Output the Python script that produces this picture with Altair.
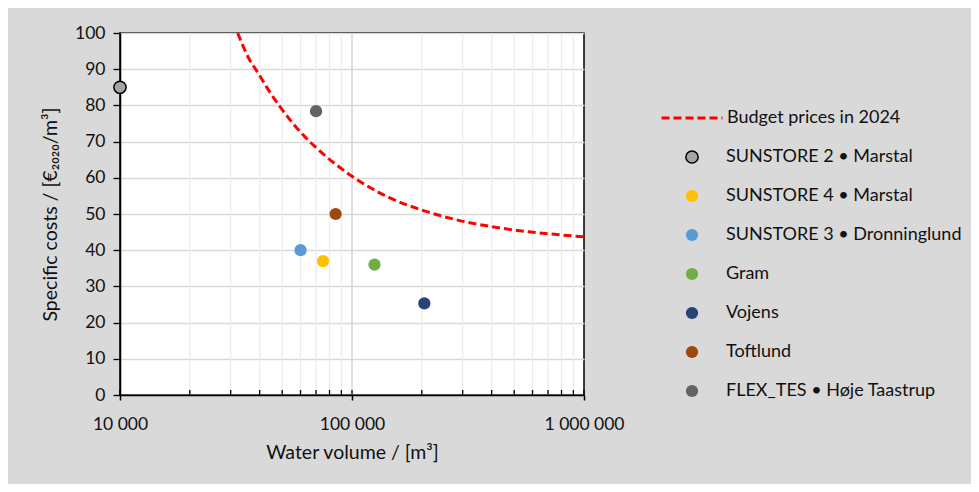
import altair as alt
import pandas as pd

# ---------------- data ----------------
names = [
    "SUNSTORE 2 • Marstal",
    "SUNSTORE 4 • Marstal",
    "SUNSTORE 3 • Dronninglund",
    "Gram",
    "Vojens",
    "Toftlund",
    "FLEX_TES • Høje Taastrup",
]
volumes = [10000, 75000, 60000, 125000, 205000, 85000, 70000]
costs = [85.0, 37.0, 40.0, 36.0, 25.3, 50.0, 78.4]
fill_colors = ["#a5a5a5", "#ffc000", "#5b9bd5", "#70ad47", "#264478", "#9e480e", "#636363"]
stroke_colors = ["#000000", "transparent", "transparent", "transparent",
                 "transparent", "transparent", "transparent"]

budget_label = "Budget prices in 2024"
budget_x = [32150, 35700, 39500, 43600, 49000, 55000, 62700, 69300, 76600,
            86000, 100000, 114000, 144000, 200000, 278000, 400000, 575000,
            800000, 1000000]
budget_y = [100.0, 93.3, 88.8, 84.3, 79.6, 75.4, 71.3, 68.6, 66.1,
            63.5, 60.4, 58.1, 54.6, 51.1, 48.5, 46.5, 45.1, 44.2, 43.7]

x_major = [10000, 100000, 1000000]
x_major_labels = ["10 000", "100 000", "1 000 000"]
x_minor = [20000, 30000, 40000, 50000, 60000, 70000, 80000, 90000,
           200000, 300000, 400000, 500000, 600000, 700000, 800000, 900000]
y_ticks = [0, 10, 20, 30, 40, 50, 60, 70, 80, 90, 100]

x_title = "Water volume / [m³]"
y_title = "Specific costs / [€₂₀₂₀/m³]"

# ---------------- layout ----------------
W, H = 464, 362
TOTAL_W, TOTAL_H = 963, 476
FONT = "Lato"
TXT = "#111111"

pts = pd.DataFrame({"x": volumes, "y": costs, "name": names})
curve = pd.DataFrame({"x": budget_x, "y": budget_y, "series": [budget_label] * len(budget_x)})
grid_minor = pd.DataFrame({"x": x_minor})
grid_major = pd.DataFrame({"x": [v for v in x_major if v not in (x_major[0], x_major[-1])]})
ticks_in = pd.DataFrame({"x": x_minor + x_major})

label_expr = " : ".join(
    f"datum.value == {v} ? '{t}'" for v, t in zip(x_major, x_major_labels)
) + " : ''"

x_scale = alt.Scale(type="log", domain=[x_major[0], x_major[-1]], nice=False)
y_scale = alt.Scale(domain=[0, 100], nice=False)

x_axis = alt.Axis(
    values=x_major, labelExpr=label_expr, title=x_title, grid=False,
    tickSize=5, tickColor="black", tickWidth=1.5,
    domainColor="black", domainWidth=1.5,
    labelFont=FONT, labelFontSize=17.5, labelColor=TXT, labelPadding=15,
    labelFlush=False, labelOverlap=False,
    titleFont=FONT, titleFontSize=19.5, titleColor=TXT, titleFontWeight="normal",
    titlePadding=11,
)
y_axis = alt.Axis(
    values=y_ticks, title=y_title, grid=True, gridColor="#d9d9d9", gridWidth=1.3,
    tickSize=7, tickColor="black", tickWidth=1.3,
    domainColor="black", domainWidth=1.5,
    labelFont=FONT, labelFontSize=17.5, labelColor=TXT, labelPadding=8,
    titleFont=FONT, titleFontSize=19.5, titleColor=TXT, titleFontWeight="normal",
    titlePadding=14,
)

X = alt.X("x:Q", scale=x_scale, axis=x_axis)
Y = alt.Y("y:Q", scale=y_scale, axis=y_axis)

minor_grid = alt.Chart(grid_minor).mark_rule(color="#ececec", strokeWidth=1.3).encode(x=X)
major_grid = alt.Chart(grid_major).mark_rule(color="#d4d4d4", strokeWidth=1.5).encode(x=X)
inner_ticks = alt.Chart(ticks_in).mark_rule(color="black", strokeWidth=1.3).encode(
    x=X, y=alt.value(H - 5), y2=alt.value(H)
)

line = alt.Chart(curve).mark_line(
    strokeDash=[8, 4], strokeWidth=3, interpolate="monotone"
).encode(
    x=X, y=Y,
    color=alt.Color(
        "series:N",
        scale=alt.Scale(domain=[budget_label], range=["#ff0000"]),
        legend=alt.Legend(
            title=None, orient="none", legendX=540, legendY=53,
            symbolType="stroke", symbolSize=3721, symbolStrokeWidth=3,
            symbolDash=[8, 4], symbolStrokeColor="#ff0000",
            labelOffset=3, labelFont=FONT, labelFontSize=18, labelColor=TXT,
            labelLimit=400, padding=0,
        ),
    ),
)

pt_legend = alt.Legend(
    title=None, orient="none", legendX=563, legendY=115,
    symbolType="circle", symbolSize=150, symbolStrokeWidth=1.5,
    labelOffset=25, labelFont=FONT, labelFontSize=18, labelColor=TXT,
    labelLimit=400, rowPadding=19, padding=0,
)

points = alt.Chart(pts).mark_point(
    filled=True, size=150, strokeWidth=1.5, opacity=1
).encode(
    x=X, y=Y,
    fill=alt.Fill("name:N", scale=alt.Scale(domain=names, range=fill_colors), legend=pt_legend),
    stroke=alt.Stroke("name:N", scale=alt.Scale(domain=names, range=stroke_colors), legend=pt_legend),
)

chart = alt.layer(minor_grid, major_grid, inner_ticks, line, points).properties(
    width=W, height=H,
    autosize=alt.AutoSizeParams(type="none"),
    padding={"left": 112, "top": 25, "right": TOTAL_W - 112 - W, "bottom": TOTAL_H - 25 - H},
    background="#d9d9d9",
).configure_view(
    fill="white", stroke="black", strokeWidth=1.5
)

chart.save("out.html", embed_options={"renderer": "svg", "actions": False})
